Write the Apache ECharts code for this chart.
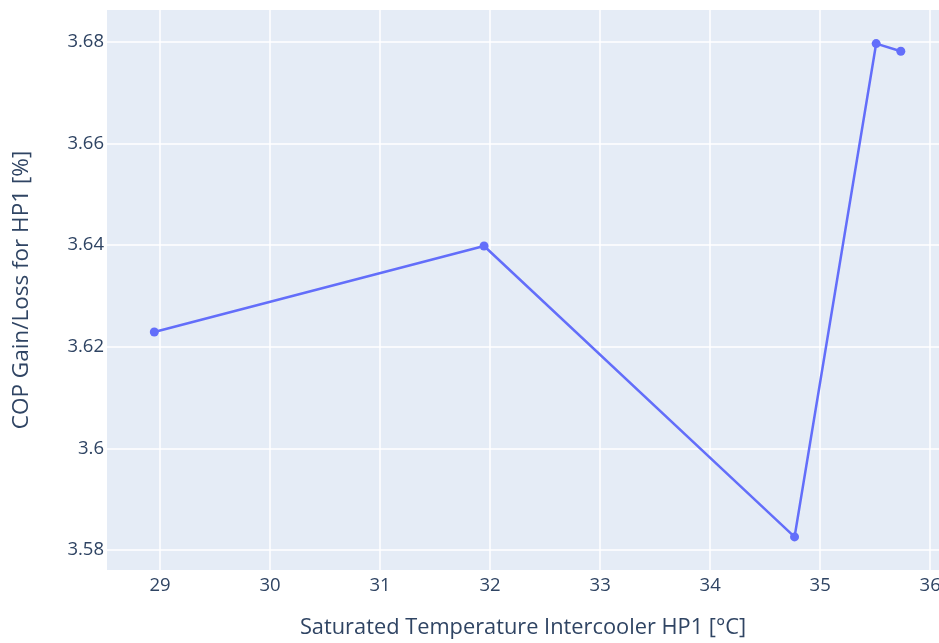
<!DOCTYPE html>
<html>
<head>
<meta charset="utf-8">
<script src="https://cdn.jsdelivr.net/npm/echarts@6/dist/echarts.min.js"></script>
<style>html,body{margin:0;padding:0;background:#fff;}#c{width:939px;height:643px;}</style>
</head>
<body>
<div id="c"></div>
<script>
const xValues = [28.948, 31.945, 34.767, 35.509, 35.733];
const yValues = [3.6229, 3.6398, 3.5826, 3.6796, 3.6781];
const xTicks = [29, 30, 31, 32, 33, 34, 35, 36];
const yTicks = [3.58, 3.6, 3.62, 3.64, 3.66, 3.68];
const xTitle = 'Saturated Temperature Intercooler HP1 [°C]';
const yTitle = 'COP Gain/Loss for HP1 [%]';

const font = '"Open Sans", "Noto Sans", sans-serif';
const chart = echarts.init(document.getElementById('c'), null, {renderer: 'canvas'});
chart.setOption({
  animation: false,
  backgroundColor: '#ffffff',
  grid: {left: 107, top: 10, right: 0, bottom: 73, show: true, backgroundColor: '#E5ECF6', borderWidth: 0,
    containLabel: false, outerBoundsMode: 'none'},
  xAxis: {
    type: 'value', min: 28.518, max: 36.08,
    name: xTitle, nameLocation: 'middle', nameGap: 47,
    nameTextStyle: {color: '#2f4463', fontSize: 21.8, fontFamily: font},
    axisLine: {show: false},
    axisTick: {show: false, customValues: xTicks},
    axisLabel: {customValues: xTicks, color: '#2f4463', fontSize: 18.5, fontFamily: font, margin: 6},
    splitLine: {show: true, customValues: xTicks, lineStyle: {color: '#ffffff', width: 1.5}}
  },
  yAxis: {
    type: 'value', min: 3.5761, max: 3.6862,
    name: yTitle, nameLocation: 'middle', nameGap: 74,
    nameTextStyle: {color: '#2f4463', fontSize: 22.5, fontFamily: font},
    axisLine: {show: false},
    axisTick: {show: false, customValues: yTicks},
    axisLabel: {customValues: yTicks, color: '#2f4463', fontSize: 18.5, fontFamily: font, margin: 3,
      formatter: v => String(+v.toFixed(2))},
    splitLine: {show: true, customValues: yTicks, lineStyle: {color: '#ffffff', width: 1.5}}
  },
  series: [{
    type: 'line',
    data: xValues.map((x, i) => [x, yValues[i]]),
    symbol: 'circle', symbolSize: 9,
    lineStyle: {color: '#636EFA', width: 2.5},
    itemStyle: {color: '#636EFA'}
  }]
});
</script>
</body>
</html>
